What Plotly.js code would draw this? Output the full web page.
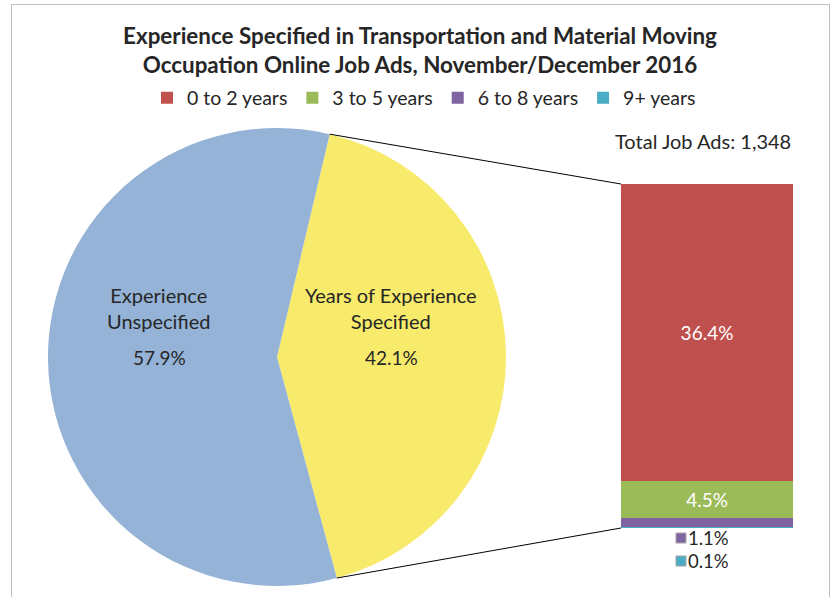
<!DOCTYPE html>
<html>
<head>
<meta charset="utf-8">
<script src="https://cdn.plot.ly/plotly-3.0.1.min.js"></script>
<style>html,body{margin:0;padding:0;background:#fff;}#chart{width:833px;height:597px;}</style>
</head>
<body>
<div id="chart"></div>
<script>
// ---- data ----
var pieLabels = ["Years of Experience Specified", "Experience Unspecified"];
var pieValues = [42.1, 57.9];
var pieColors = ["#F8EB6C", "#95B3D7"];

var barCategories = ["0 to 2 years", "3 to 5 years", "6 to 8 years", "9+ years"];
var barValues = [36.4, 4.5, 1.1, 0.1];
var barColors = ["#C0504D", "#9BBB59", "#8064A2", "#4BACC6"];
var totalText = "Total Job Ads: 1,348";
var titleLines = ["Experience Specified in Transportation and Material Moving",
                  "Occupation Online Job Ads, November/December 2016"];

// ---- geometry ----
var W = 833, H = 597;
var pieCx = 277, pieCy = 357, pieR = 229;
var barLeft = 621, barRight = 793, barTop = 184, barBottom = 528;
var rotation = 13.3;
function px(x){ return x / W; }
function py(y){ return 1 - y / H; }

var font = "Lato, 'Open Sans', sans-serif";
var textColor = "#262626";

var traces = [];
traces.push({
  type: "pie",
  labels: pieLabels,
  values: pieValues,
  marker: {colors: pieColors, line: {width: 0}},
  sort: false,
  direction: "clockwise",
  rotation: rotation,
  textinfo: "none",
  hoverinfo: "label+percent",
  showlegend: false,
  domain: {x: [px(pieCx - pieR), px(pieCx + pieR)], y: [py(pieCy + pieR), py(pieCy - pieR)]}
});

// stacked bar, bottom to top: 9+, 6-8, 3-5, 0-2
for (var i = barCategories.length - 1; i >= 0; i--) {
  var big = barValues[i] >= 3;
  traces.push({
    type: "bar",
    name: barCategories[i],
    x: ["Total"],
    y: [barValues[i]],
    marker: {color: barColors[i], line: {width: 0}},
    xaxis: "x",
    yaxis: "y",
    text: big ? [barValues[i].toFixed(1) + "%"] : [""],
    textposition: big ? "inside" : "none",
    insidetextanchor: "middle",
    textfont: {color: "#ffffff", size: 19, family: font},
    legendrank: i + 1,
    hoverinfo: "name+y"
  });
}

var totalVal = barValues.reduce(function(a, b){ return a + b; }, 0);

var shapes = [];
// chart border
shapes.push({type: "rect", xref: "paper", yref: "paper",
  x0: px(11.5), x1: px(829.5), y0: py(4.5), y1: -0.1,
  line: {color: "#BFBFBF", width: 1}, fillcolor: "rgba(0,0,0,0)", layer: "below"});

// connector lines from the pie seam to the bar corners
var a1 = rotation * Math.PI / 180;
var a2 = (rotation + 360 * pieValues[0] / (pieValues[0] + pieValues[1])) * Math.PI / 180;
var p1 = [pieCx + pieR * Math.sin(a1), pieCy - pieR * Math.cos(a1)];
var p2 = [pieCx + pieR * Math.sin(a2), pieCy - pieR * Math.cos(a2)];
shapes.push({type: "line", xref: "paper", yref: "paper",
  x0: px(p1[0]), y0: py(p1[1]), x1: px(barLeft), y1: py(barTop),
  line: {color: "#000000", width: 1}});
shapes.push({type: "line", xref: "paper", yref: "paper",
  x0: px(p2[0]), y0: py(p2[1]), x1: px(barLeft), y1: py(barBottom),
  line: {color: "#000000", width: 1}});

// small keys beside the outside labels
var smallIdx = [2, 3];
var smallY = [538, 561];
var annotations = [];
smallIdx.forEach(function(idx, k){
  shapes.push({type: "rect", xref: "paper", yref: "paper",
    x0: px(676), x1: px(686), y0: py(smallY[k] + 5), y1: py(smallY[k] - 5),
    fillcolor: barColors[idx], line: {color: "#A6A6A6", width: 1}});
  annotations.push({xref: "paper", yref: "paper", x: px(687), y: py(smallY[k]),
    xanchor: "left", yanchor: "middle", showarrow: false, borderpad: 0,
    text: barValues[idx].toFixed(1) + "%", font: {size: 18.5, color: textColor, family: font}});
});

// pie labels
var pctU = (100 * pieValues[1] / (pieValues[0] + pieValues[1])).toFixed(1) + "%";
var pctS = (100 * pieValues[0] / (pieValues[0] + pieValues[1])).toFixed(1) + "%";
annotations.push({xref: "paper", yref: "paper", x: px(159), y: py(308), xanchor: "center", yanchor: "middle",
  showarrow: false, text: "Experience<br>Unspecified", font: {size: 20, color: textColor, family: font}});
annotations.push({xref: "paper", yref: "paper", x: px(159), y: py(357), xanchor: "center", yanchor: "middle",
  showarrow: false, text: pctU, font: {size: 19, color: textColor, family: font}});
annotations.push({xref: "paper", yref: "paper", x: px(391), y: py(308), xanchor: "center", yanchor: "middle",
  showarrow: false, text: "Years of Experience<br>Specified", font: {size: 20, color: textColor, family: font}});
annotations.push({xref: "paper", yref: "paper", x: px(391), y: py(357), xanchor: "center", yanchor: "middle",
  showarrow: false, text: pctS, font: {size: 19, color: textColor, family: font}});
// total
annotations.push({xref: "paper", yref: "paper", x: px(793), y: py(141), xanchor: "right", yanchor: "middle",
  showarrow: false, text: totalText, font: {size: 20, color: textColor, family: font}});

var layout = {
  width: W, height: H,
  margin: {l: 0, r: 0, t: 0, b: 0},
  paper_bgcolor: "#ffffff", plot_bgcolor: "rgba(0,0,0,0)",
  font: {family: font, color: textColor},
  title: {text: "<b>" + titleLines.join("<br>") + "</b>", x: px(420), xanchor: "center",
          y: py(43.5), yanchor: "middle", font: {size: 22.4, color: textColor, family: font}},
  barmode: "stack",
  bargap: 0,
  showlegend: true,
  legend: {orientation: "h", x: px(424), xanchor: "center", y: py(98), yanchor: "middle",
           traceorder: "normal", itemwidth: 30, font: {size: 19.5, color: textColor, family: font},
           bgcolor: "rgba(0,0,0,0)"},
  xaxis: {domain: [px(barLeft), px(barRight)], range: [-0.5, 0.5], visible: false, fixedrange: true},
  yaxis: {domain: [py(barBottom), py(barTop)], range: [0, totalVal], visible: false, fixedrange: true},
  shapes: shapes,
  annotations: annotations
};

Plotly.newPlot("chart", traces, layout, {displayModeBar: false, staticPlot: false});
</script>
</body>
</html>
